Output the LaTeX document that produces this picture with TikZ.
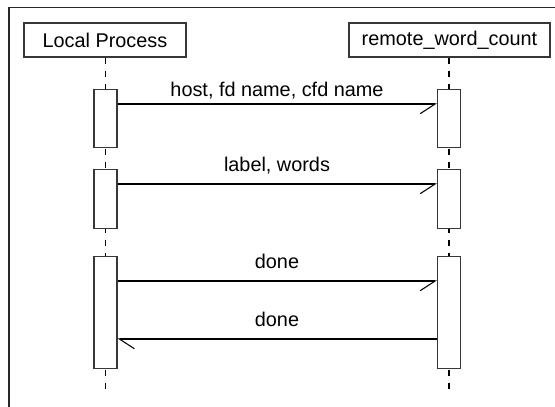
\documentclass[tikz,border=0pt]{standalone}
\usepackage{fontspec}
\setmainfont{Liberation Sans}
\usepackage{tikz}
\usetikzlibrary{arrows.meta,calc,positioning}
\definecolor{FrameGray}{RGB}{40,40,40}
\definecolor{BoxGray}{RGB}{55,55,55}
\tikzset{
  headbox/.style={draw=BoxGray,line width=0.7pt,minimum height=0.68cm,inner sep=0pt,font=\fontsize{11.3}{13}\selectfont},
  actbox/.style={draw=BoxGray,line width=0.7pt,fill=white,minimum width=0.46cm,inner sep=0pt},
  lifeline/.style={line width=0.7pt,dash pattern=on 0.12cm off 0.14cm},
  msg/.style={line width=0.6pt,-{Straight Barb[harpoon,swap,length=0.3cm,width=0.39cm]}},
  msgback/.style={line width=0.6pt,-{Straight Barb[harpoon,length=0.3cm,width=0.39cm]}},
  msglabel/.style={anchor=base,inner sep=0pt,font=\fontsize{11.3}{13}\selectfont}
}

\begin{document}
\begin{tikzpicture}
\useasboundingbox (0,0) rectangle (11.1,8.14);
% frame (cut at the right and bottom)
\draw[FrameGray,line width=0.7pt] (0.18,0) -- (0.18,7.99) -- (11.1,7.99);
% heads
\node[headbox,minimum width=3.24cm] (local) at (2.1,7.34) {Local Process};
\node[headbox,minimum width=4.02cm] (remote) at (8.99,7.34) {remote\_word\_count};
% lifelines
\coordinate (localend) at (2.11,0.26);
\coordinate (remoteend) at (8.98,0.26);
\draw[lifeline] (local.south -| localend) -- (localend);
\draw[lifeline] (remote.south -| remoteend) -- (remoteend);
% activations
\node[actbox,minimum height=1.16cm,anchor=north] (actla) at (2.11,6.36) {};
\node[actbox,minimum height=1.16cm,anchor=north] (actra) at (8.98,6.36) {};
\node[actbox,minimum height=1.18cm,anchor=north] (actlb) at (2.11,4.76) {};
\node[actbox,minimum height=1.18cm,anchor=north] (actrb) at (8.98,4.76) {};
\node[actbox,minimum height=2.24cm,anchor=north] (actlc) at (2.11,3.02) {};
\node[actbox,minimum height=2.24cm,anchor=north] (actrc) at (8.98,3.02) {};
% messages
\draw[msg] ([yshift=-0.3cm]actla.north east) -- ([yshift=-0.3cm]actra.north west);
\draw[msg] ([yshift=-0.3cm]actlb.north east) -- ([yshift=-0.3cm]actrb.north west);
\draw[msg] ([yshift=-0.5cm]actlc.north east) -- ([yshift=-0.5cm]actrc.north west);
\draw[msgback] ([yshift=-1.66cm]actrc.north west) -- ([yshift=-1.66cm]actlc.north east);
\node[msglabel] (lblhost) at (5.54,6.2) {host, fd name, cfd name};
\node[msglabel] (lblwords) at (5.54,4.7) {label, words};
\node[msglabel] (lbldone) at (5.54,2.76) {done};
\node[msglabel] (lbldoneback) at (5.54,1.6) {done};
\end{tikzpicture}
\end{document}
